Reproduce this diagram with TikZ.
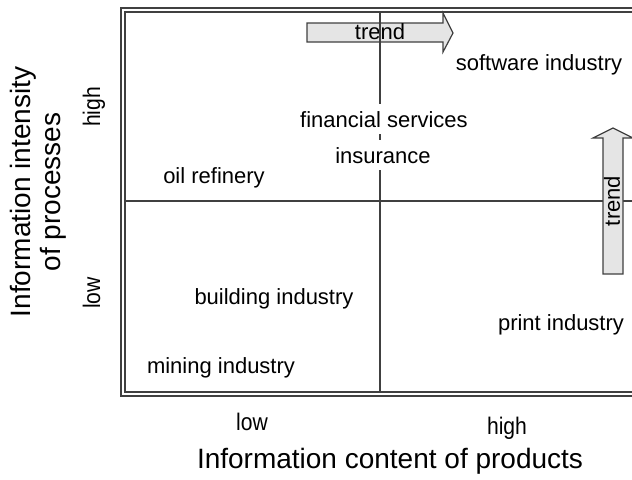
\documentclass[tikz,border=0pt]{standalone}
\usepackage{fontspec}
\setmainfont{Liberation Sans}
\begin{document}
\begin{tikzpicture}[x=0.5pt,y=-0.5pt,
  frame/.style={draw=black!75,line width=0.6pt},
  trendarrow/.style={draw=black!75,fill=black!10,line width=0.6pt},
  sector/.style={fill=white,font=\fontsize{11}{13}\selectfont,anchor=base},
  level/.style={font=\fontsize{12}{14}\selectfont,xscale=0.88,anchor=base},
  axis/.style={font=\fontsize{14}{15}\selectfont,align=center}]
\useasboundingbox (0,0) rectangle (632,479);
\clip (0,0) rectangle (632,479);

% double frame and the low/high split of the processes
\draw[frame] (121,8) rectangle (640,396);
\draw[frame] (125,12) rectangle (636,392);
\draw[frame] (125,201) -- (636,201);

% trend arrows
\draw[trendarrow] (307,23) -- (443,23) -- (443,13) -- (453,33) -- (443,52) -- (443,42) -- (307,42) -- cycle;
\draw[trendarrow] (603,274) -- (603,138) -- (593,138) -- (613,128) -- (633,138) -- (623,138) -- (623,274) -- cycle;
\node[font=\fontsize{11}{13}\selectfont](trendx) at (380,32) {trend};
\node[font=\fontsize{11}{13}\selectfont,rotate=90](trendy) at (612,201) {trend};

% low/high split of the products
\draw[frame] (380,12) -- (380,392);

\node[sector](software) at (539,70) {software industry};
\node[sector](financial) at (384,127) {financial services};
\node[sector](insurance) at (383,163) {insurance};
\node[sector](oil) at (214,183) {oil refinery};
\node[sector](building) at (274,304) {building industry};
\node[sector](print) at (561,330) {print industry};
\node[sector](mining) at (221,373) {mining industry};

\node[level](xlow) at (252,430) {low};
\node[level](xhigh) at (507,434) {high};
\node[rotate=90,level](ylow) at (100,293) {low};
\node[rotate=90,level](yhigh) at (100,107) {high};

\node[axis,anchor=base](xtitle) at (390,468) {Information content of products};
\node[axis,rotate=90](ytitle) at (38,192) {Information intensity\\of processes};

\end{tikzpicture}
\end{document}
